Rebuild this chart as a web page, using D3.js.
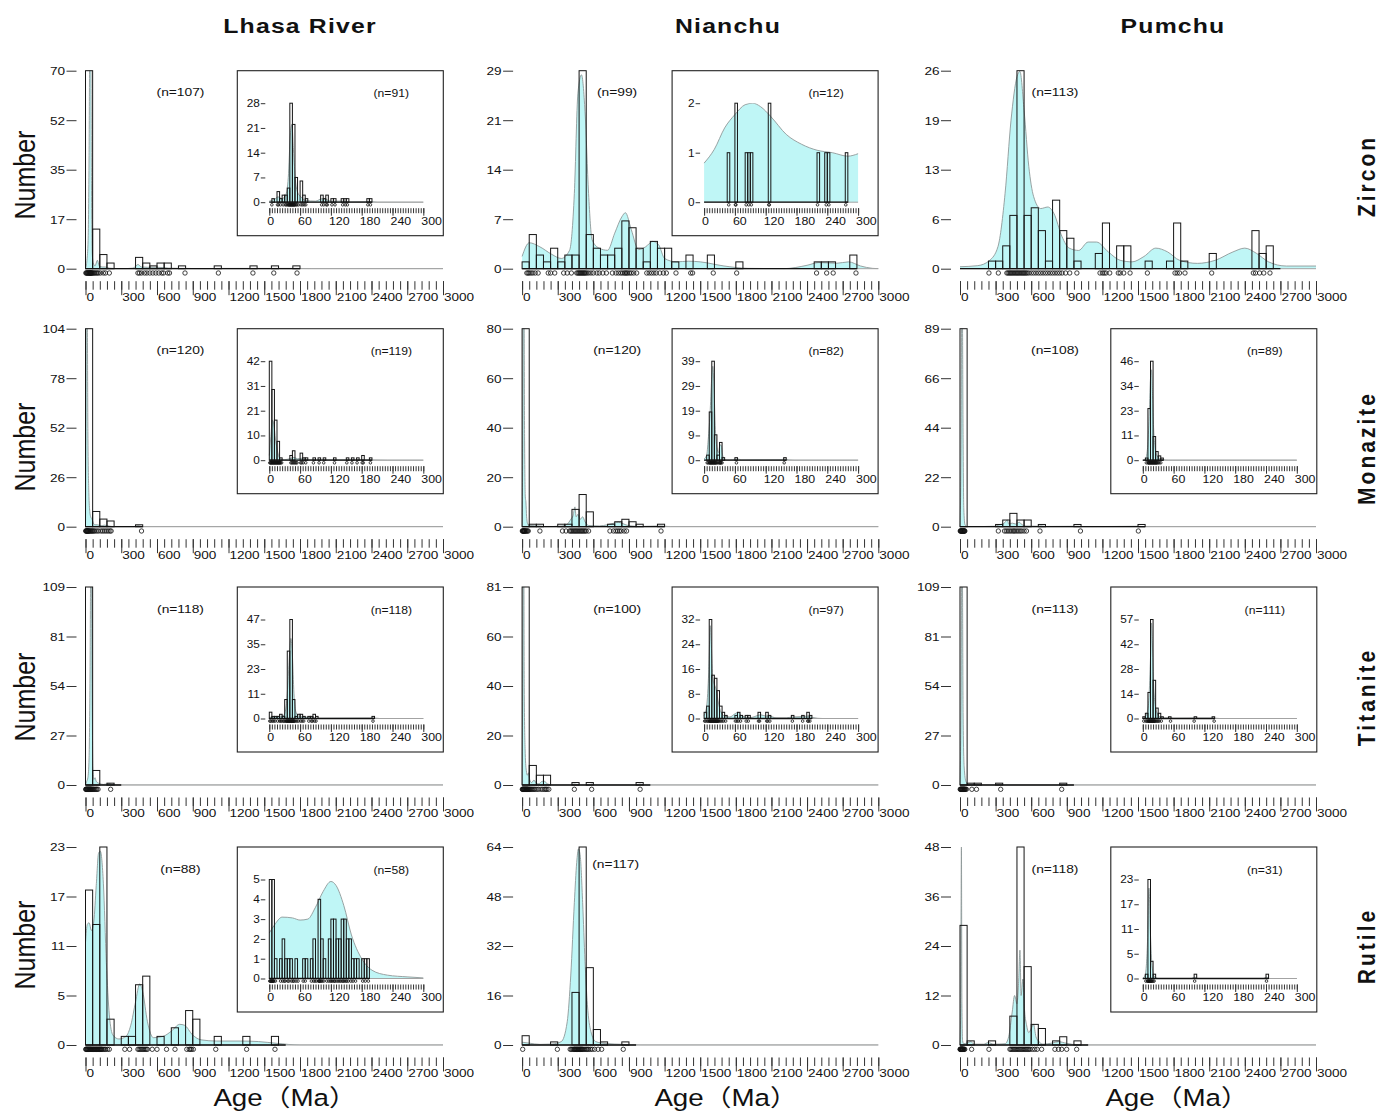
<!DOCTYPE html>
<html>
<head>
<meta charset="utf-8">
<script src="https://cdn.jsdelivr.net/npm/d3@7"></script>
<style>
  body { margin: 0; background: #fff; }
  svg { display: block; }
</style>
</head>
<body>
<svg id="chart" width="1381" height="1112"></svg>
<script>
// ---------- categories and tick labels ----------
const rivers = ["Lhasa River", "Nianchu", "Pumchu"];
const minerals = ["Zircon", "Monazite", "Titanite", "Rutile"];
const ageTicks = [0, 300, 600, 900, 1200, 1500, 1800, 2100, 2400, 2700, 3000];
const insetAgeTicks = [0, 60, 120, 180, 240, 300];
const mainBin = 60;   // Ma per bar, full-range histograms
const insetBin = 5;   // Ma per bar, 0-300 Ma histograms

// ---------- Zircon ----------
const lhasaZirconCounts = [70,14,5,2,0,0,0,4,2,1,2,2,0,1,0,0,0,0,1,0,0,0,0,1,0,0,1,0,0,1];
const lhasaZirconYTicks = ["0","17","35","52","70"];
const lhasaZirconRug = [3,8,12,17,21,25,29,33,36,39,42,45,48,52,56,62,70,78,88,98,108,125,150,168,200,440,452,470,495,515,540,565,590,615,640,655,690,705,835,1115,1405,1580,1775];
const lhasaZirconKde = [[0,0],[12,3],[22,10],[30,40],[36,80],[44,80],[50,30],[56,6],[65,2],[80,1],[100,3],[115,1],[140,0.6],[165,0.6],[200,0.2],[300,0],[400,0.2],[440,1.5],[470,0.6],[520,0.5],[600,0.5],[650,0.4],[700,0.2],[800,0.1],[840,0.1],[1000,0],[1120,0.1],[1400,0.1],[1570,0.1],[1780,0.1],[1900,0],[3000,0]];
const lhasaZirconInsetCounts = [0,1,0,3,1,2,2,4,28,22,7,0,6,2,1,0,0,0,0,0,2,1,2,0,1,1,0,0,1,1,1,0,0,0,0,0,0,0,1,1];
const lhasaZirconInsetYTicks = ["0","7","14","21","28"];
const lhasaZirconInsetRug = [5,16,18,22,27,31,33,35,37,38,39,40,41,42,43,44,45,46,47,48,49,50,52,54,57,62,65,68,71,102,106,111,113,122,128,143,148,152,192,197];
const lhasaZirconInsetKde = [[0,0.3],[10,0.8],[17,1.5],[25,1],[32,2],[37,7],[41,19],[44,22],[47,15],[51,6],[56,2.5],[62,1.5],[70,0.5],[90,0.3],[103,1],[110,0.8],[120,0.3],[145,0.3],[155,0.1],[195,0.2],[210,0],[300,0]];

const nianchuZirconCounts = [1,5,2,1,3,1,2,2,29,5,3,2,2,3,7,6,3,1,4,3,3,1,0,2,0,0,2,0,0,0,1,0,0,0,0,0,0,0,0,0,0,1,1,1,0,0,2];
const nianchuZirconYTicks = ["0","7","14","21","29"];
const nianchuZirconRug = [40,50,60,75,90,110,135,220,240,275,350,380,415,460,470,478,486,494,502,510,518,526,534,545,560,580,600,630,650,680,710,760,790,810,830,845,860,870,880,890,905,920,940,965,1050,1070,1090,1110,1130,1160,1190,1215,1296,1420,1436,1610,1807,2480,2565,2620,2812];
const nianchuZirconKde = [[0,1.8],[60,3.8],[150,3.2],[250,2.1],[330,1.5],[400,2.7],[440,11],[470,25.7],[500,28.4],[530,23],[560,11],[590,4.2],[650,3],[720,2.7],[780,5.2],[840,7.6],[870,8.2],[920,5.7],[980,2.8],[1040,3.2],[1100,4],[1150,3.5],[1200,1.5],[1300,1],[1400,1.1],[1500,1],[1700,0.4],[1900,0.05],[2200,0],[2400,0.5],[2500,0.9],[2650,0.8],[2750,1],[2850,0.4],[2950,0.05],[3000,0]];
const nianchuZirconInsetCounts = [0,0,0,0,0,0,0,0,0,1,0,0,2,0,0,0,1,1,1,0,0,0,0,0,0,2,0,0,0,0,0,0,0,0,0,0,0,0,0,0,0,0,0,0,1,0,0,1,1,0,0,0,0,0,0,1];
const nianchuZirconInsetYTicks = ["0","1","2"];
const nianchuZirconInsetRug = [48,61,62,82,87,92,126,127,221,238,243,276];
const nianchuZirconInsetKde = [[0,0.79],[20,1.07],[40,1.5],[60,1.77],[80,1.97],[95,2.0],[110,1.93],[130,1.73],[160,1.37],[190,1.17],[220,1.05],[250,1.0],[280,0.93],[300,0.98]];

const pumchuZirconCounts = [0,0,0,0,1,1,3,7,26,7,8,5,1,9,5,4,1,0,0,2,6,0,3,3,0,0,1,0,0,1,6,1,0,0,0,2,0,0,0,0,0,5,2,3,0];
const pumchuZirconYTicks = ["0","6","13","19","26"];
const pumchuZirconRug = [244,323,395,405,415,425,435,445,455,465,475,485,495,505,515,525,535,545,555,565,580,600,620,640,660,680,700,720,740,760,780,800,820,840,860,890,925,985,1180,1200,1215,1230,1262,1334,1350,1380,1433,1579,1812,1830,1850,1896,2121,2472,2490,2525,2560,2612];
const pumchuZirconKde = [[0,0.26],[150,0.4],[250,1.1],[320,2.9],[380,9.9],[430,19.5],[480,25.2],[505,25.9],[540,20.8],[580,13.4],[620,9.5],[680,7.9],[740,8.1],[790,7.3],[860,4.2],[920,2.7],[1000,2.4],[1080,3.5],[1150,3.5],[1250,2.2],[1350,1.1],[1450,0.9],[1550,1.6],[1650,2.7],[1750,2.2],[1850,1.1],[2000,0.7],[2150,1.1],[2300,2.2],[2400,2.7],[2500,2],[2600,0.9],[2750,0.35],[3000,0.35]];

// ---------- Monazite ----------
const lhasaMonaziteCounts = [104,8,4,3,0,0,0,1];
const lhasaMonaziteYTicks = ["0","26","52","78","104"];
const lhasaMonaziteRug = [2,5,8,11,14,17,20,23,26,30,35,42,48,55,62,70,80,95,110,130,145,160,175,190,205,215,470];
const lhasaMonaziteKde = [[0,0],[4,50],[8,120],[14,120],[20,50],[28,18],[36,8],[45,5],[55,4],[65,2],[80,1],[100,1],[130,0.5],[160,0.8],[200,0.3],[250,0],[400,0],[440,0.5],[480,0],[3000,0]];
const lhasaMonaziteInsetCounts = [42,30,17,8,1,0,0,0,2,4,0,0,3,1,1,0,0,1,0,1,0,1,0,0,0,1,0,0,0,0,1,0,1,0,1,0,2,0,0,1];
const lhasaMonaziteInsetYTicks = ["0","10","21","31","42"];
const lhasaMonaziteInsetRug = [1,2,3,4,5,6,7,8,9,10,11,12,13,14,15,16,17,18,19,20,21,22,24,42,44,46,48,50,52,54,61,63,66,71,86,97,106,127,151,161,171,181,183,197];
const lhasaMonaziteInsetKde = [[0,2],[3,10],[6,17],[9,15],[12,9],[15,5],[18,2],[22,0.5],[30,0.2],[42,0.8],[48,1.2],[55,0.6],[63,0.8],[70,0.3],[100,0.2],[150,0.2],[175,0.3],[185,0.3],[200,0.1],[230,0],[300,0]];

const nianchuMonaziteCounts = [80,1,1,0,0,1,1,7,13,6,0,0,1,2,3,2,1,0,0,1];
const nianchuMonaziteYTicks = ["0","20","40","60","80"];
const nianchuMonaziteRug = [2,5,8,11,14,17,20,23,27,32,38,45,52,150,340,370,400,410,420,430,440,450,460,470,480,490,500,510,520,530,540,560,740,770,790,805,820,835,860,880,1170];
const nianchuMonaziteKde = [[0,0],[5,30],[10,90],[16,90],[21,35],[27,12],[32,10],[38,4],[48,1],[60,0.5],[150,0.3],[200,0],[330,0.3],[380,1],[410,3],[430,4.5],[445,8],[455,4],[470,5],[490,3],[510,4],[530,2],[560,0.5],[650,0.3],[720,0.8],[780,1.5],[810,1.8],[850,1.2],[900,0.4],[1000,0.1],[1170,0.3],[1250,0],[3000,0]];
const nianchuMonaziteInsetCounts = [0,2,19,39,10,2,7,1,0,0,0,0,1,0,0,0,0,0,0,0,0,0,0,0,0,0,0,0,0,0,0,1];
const nianchuMonaziteInsetYTicks = ["0","9","19","29","39"];
const nianchuMonaziteInsetRug = [6,8,10,11,12,13,14,15,16,17,18,19,20,21,22,23,24,26,28,30,31,32,33,35,63,156];
const nianchuMonaziteInsetKde = [[0,0.5],[5,2],[8,8],[12,20],[15,33],[17,37],[19,30],[22,12],[25,5],[28,3],[31,6],[33,6],[36,2],[40,0.3],[50,0.1],[60,0.4],[66,0.5],[72,0.1],[150,0.2],[157,0.5],[165,0.1],[175,0],[300,0]];

const pumchuMonaziteCounts = [89,0,0,0,0,1,3,6,3,3,0,1,0,0,0,0,1,0,0,0,0,0,0,0,0,1];
const pumchuMonaziteYTicks = ["0","22","44","66","89"];
const pumchuMonaziteRug = [2,5,8,11,14,17,20,23,26,29,32,35,38,41,323,375,390,405,420,435,450,460,475,490,505,520,540,560,674,1015,1503];
const pumchuMonaziteKde = [[0,0],[8,30],[14,95],[20,95],[26,40],[32,8],[42,1],[60,0],[290,0.2],[330,0.8],[370,1.5],[400,3],[410,1.2],[440,1.6],[470,1.2],[500,2],[520,1],[560,0.3],[650,0.2],[680,0.4],[720,0.1],[1000,0.2],[1050,0],[1500,0.2],[1550,0],[3000,0]];
const pumchuMonaziteInsetCounts = [0,1,24,46,11,4,2,1];
const pumchuMonaziteInsetYTicks = ["0","11","23","34","46"];
const pumchuMonaziteInsetRug = [7,10,11,12,13,14,15,16,17,18,19,20,21,22,23,24,25,26,27,28,30,32,35];
const pumchuMonaziteInsetKde = [[0,0],[5,0.5],[9,5],[12,18],[15,38],[17,42],[19,30],[21,15],[24,6],[28,2],[33,0.8],[40,0.2],[50,0],[300,0]];

// ---------- Titanite ----------
const lhasaTitaniteCounts = [109,8,0,1,0];
const lhasaTitaniteYTicks = ["0","27","54","81","109"];
const lhasaTitaniteRug = [2,5,8,11,14,17,20,23,26,29,32,35,38,41,44,47,50,55,60,66,72,80,88,95,105,211];
const lhasaTitaniteKde = [[0,0],[10,2],[20,4],[30,15],[38,60],[44,120],[50,120],[56,50],[62,10],[70,3],[80,4],[90,2],[110,1],[150,0.3],[200,0.8],[220,0.3],[300,0],[3000,0]];
const lhasaTitaniteInsetCounts = [3,1,1,1,2,1,9,32,47,9,1,2,2,1,0,1,1,2,1,0,0,0,0,0,0,0,0,0,0,0,0,0,0,0,0,0,0,0,0,0,1];
const lhasaTitaniteInsetYTicks = ["0","11","23","35","47"];
const lhasaTitaniteInsetRug = [1,3,6,8,11,16,20,22,24,27,29,31,33,34,35,36,37,38,39,40,41,42,43,44,45,46,47,48,49,51,54,57,61,64,67,77,82,84,88,91,202];
const lhasaTitaniteInsetKde = [[0,0.5],[10,0.8],[20,1],[28,1.5],[33,6],[37,20],[40,33],[42,38],[45,30],[48,12],[52,3],[58,1],[65,0.8],[75,0.6],[85,0.3],[100,0.1],[195,0.2],[205,0.2],[215,0],[300,0]];

const nianchuTitaniteCounts = [81,8,4,4,0,0,0,1,0,1,0,0,0,0,0,0,1,0];
const nianchuTitaniteYTicks = ["0","20","40","60","81"];
const nianchuTitaniteRug = [2,5,8,11,14,17,20,23,26,29,32,35,38,41,44,47,50,55,60,65,72,80,90,100,110,125,140,160,175,190,200,210,225,440,586,994];
const nianchuTitaniteKde = [[0,0],[5,40],[10,95],[14,95],[18,40],[25,15],[35,6],[45,4],[55,5],[65,2],[80,1],[100,2],[115,1],[140,0.5],[170,1.5],[190,1.5],[210,0.5],[260,0],[400,0],[440,0.4],[480,0],[560,0],[586,0.4],[620,0],[960,0],[994,0.4],[1030,0],[3000,0]];
const nianchuTitaniteInsetCounts = [2,4,32,14,13,9,4,2,1,0,0,0,1,2,1,0,1,1,0,0,0,2,0,0,2,1,0,0,0,0,0,0,0,0,1,0,0,0,1,0,2,1];
const nianchuTitaniteInsetYTicks = ["0","8","16","24","32"];
const nianchuTitaniteInsetRug = [1,3,6,8,10,11,12,13,14,15,16,17,18,19,20,21,22,23,24,25,26,27,28,30,32,35,38,42,61,64,67,71,82,86,106,108,122,124,128,172,192,202,203,206];
const nianchuTitaniteInsetKde = [[0,1],[5,4],[9,15],[12,30],[14,24],[17,13],[20,11],[24,9],[28,5],[33,2],[40,0.8],[50,0.5],[60,1.5],[66,2],[72,1],[80,0.5],[90,0.3],[105,1],[110,1.2],[120,0.8],[127,0.8],[140,0.2],[160,0.2],[172,0.5],[190,0.6],[203,0.8],[212,0.3],[230,0],[300,0]];

const pumchuTitaniteCounts = [109,1,1,0,0,1,0,0,0,0,0,0,0,0,1,0];
const pumchuTitaniteYTicks = ["0","27","54","81","109"];
const pumchuTitaniteRug = [2,5,8,11,14,17,20,23,26,29,32,35,38,42,46,54,100,139,343,857];
const pumchuTitaniteKde = [[0,0],[8,40],[14,115],[20,115],[26,40],[35,10],[50,2],[70,0.5],[100,0.5],[140,0.4],[200,0],[320,0],[343,0.3],[370,0],[830,0],[857,0.3],[890,0],[3000,0]];
const pumchuTitaniteInsetCounts = [1,3,15,57,22,6,3,1,0,0,1,0,0,0,0,0,0,0,0,0,1,0,0,0,0,0,0,1];
const pumchuTitaniteInsetYTicks = ["0","14","28","42","57"];
const pumchuTitaniteInsetRug = [2,6,8,10,11,12,13,14,15,16,17,18,19,20,21,22,23,24,26,28,30,32,36,54,100,139];
const pumchuTitaniteInsetKde = [[0,0],[5,1],[9,4],[12,12],[15,35],[17,55],[19,40],[21,20],[24,8],[28,3],[33,1],[40,0.3],[54,0.3],[60,0.1],[100,0.2],[139,0.2],[150,0],[300,0]];

// ---------- Rutile ----------
const lhasaRutileCounts = [18,14,23,3,0,1,1,7,8,0,1,0,2,0,4,3,0,0,1,0,0,0,1,0,0,0,1,0];
const lhasaRutileYTicks = ["0","5","11","17","23"];
const lhasaRutileRug = [2,6,10,14,18,22,26,30,34,38,42,46,50,55,60,65,70,75,80,85,90,95,100,105,110,115,120,125,130,135,140,150,160,170,185,200,330,370,440,450,460,470,480,490,500,510,520,560,600,680,751,850,870,880,890,905,1093,1352,1590];
const lhasaRutileKde = [[0,11.9],[15,14],[30,14.2],[50,13.3],[70,14.4],[90,18.5],[110,22.3],[125,22.5],[150,18.8],[175,9.6],[200,3.5],[230,1.15],[280,0.7],[340,1],[380,2.3],[420,5],[455,7.1],[480,6.2],[520,2.7],[570,0.85],[650,1],[720,1.6],[790,2.4],[830,2.3],[900,1.15],[970,0.6],[1100,0.46],[1300,0.46],[1450,0.4],[1600,0.2],[1800,0],[3000,0]];
const lhasaRutileInsetCounts = [5,5,1,0,1,2,1,1,1,0,1,0,0,1,1,0,1,2,0,4,2,1,0,2,3,3,2,2,3,3,2,2,1,1,1,0,1,1,1];
const lhasaRutileInsetYTicks = ["0","1","2","3","4","5"];
const lhasaRutileInsetRug = [1,2,3,4,5,6,7,8,9,12,22,26,29,31,36,38,43,46,48,52,56,66,70,82,86,89,92,96,97,98,99,101,103,106,112,116,119,121,123,126,128,131,134,137,139,142,144,146,149,151,154,159,163,168,182,187,193];
const lhasaRutileInsetKde = [[0,2.3],[10,2.7],[25,3.1],[45,3.06],[60,2.95],[75,3.0],[90,3.6],[105,4.4],[120,4.9],[130,4.7],[145,3.7],[160,2.2],[180,1.0],[200,0.42],[230,0.17],[270,0.08],[300,0.03]];

const nianchuRutileCounts = [3,0,0,0,1,0,0,17,64,25,5,1,0,0,1,0];
const nianchuRutileYTicks = ["0","16","32","48","64"];
const nianchuRutileRug = [5,297,405,415,425,435,440,445,450,455,460,465,470,475,480,485,490,495,500,505,510,520,530,540,550,560,575,590,610,640,670,852];
const nianchuRutileKde = [[0,0.9],[60,0.6],[150,0.2],[250,0.3],[330,1.1],[380,7.5],[410,22.6],[440,46],[460,59],[475,63.4],[490,61],[510,46],[530,27],[550,13],[580,4.3],[620,1.1],[700,0.5],[850,0.2],[1000,0],[3000,0]];

const pumchuRutileCounts = [29,1,0,0,1,0,0,7,48,19,5,4,0,1,2,0,1,0];
const pumchuRutileYTicks = ["0","12","24","36","48"];
const pumchuRutileRug = [1,3,5,7,9,11,13,15,17,19,21,23,25,27,30,35,40,98,244,421,430,440,450,460,470,480,490,500,510,520,530,540,550,560,570,580,590,610,630,650,688,800,830,857,899,983];
const pumchuRutileKde = [[0,0],[6,10],[12,48],[16,10],[22,1],[30,0.3],[60,0.5],[90,0.8],[120,0.2],[200,0.2],[240,0.6],[280,0.2],[380,0.3],[410,2],[440,8],[460,12],[480,10],[495,16],[505,23],[515,12],[530,16],[545,8],[560,5],[580,3],[600,4],[620,5],[640,2],[660,1],[700,0.2],[780,0.5],[830,0.8],[900,0.4],[1000,0],[3000,0]];
const pumchuRutileInsetCounts = [0,1,23,4,1,0,0,0,0,0,0,0,0,0,0,0,0,0,0,0,1,0,0,0,0,0,0,0,0,0,0,0,0,0,0,0,0,0,0,0,0,0,0,0,0,0,0,0,1];
const pumchuRutileInsetYTicks = ["0","5","11","17","23"];
const pumchuRutileInsetRug = [6,9,10,11,12,13,14,15,16,17,18,20,22,101,241];
const pumchuRutileInsetKde = [[0,0],[5,1],[9,8],[12,21],[15,10],[18,3],[22,0.5],[30,0],[95,0],[101,0.3],[107,0],[235,0],[241,0.3],[247,0],[300,0]];

// ---------- panel table ----------
const panels = [
  {row:0, col:0, n:107, counts:lhasaZirconCounts, yTicks:lhasaZirconYTicks, rug:lhasaZirconRug, kde:lhasaZirconKde,
   inset:{n:91, counts:lhasaZirconInsetCounts, yTicks:lhasaZirconInsetYTicks, rug:lhasaZirconInsetRug, kde:lhasaZirconInsetKde}},
  {row:0, col:1, n:99, counts:nianchuZirconCounts, yTicks:nianchuZirconYTicks, rug:nianchuZirconRug, kde:nianchuZirconKde,
   inset:{n:12, counts:nianchuZirconInsetCounts, yTicks:nianchuZirconInsetYTicks, rug:nianchuZirconInsetRug, kde:nianchuZirconInsetKde}},
  {row:0, col:2, n:113, counts:pumchuZirconCounts, yTicks:pumchuZirconYTicks, rug:pumchuZirconRug, kde:pumchuZirconKde, inset:null},
  {row:1, col:0, n:120, counts:lhasaMonaziteCounts, yTicks:lhasaMonaziteYTicks, rug:lhasaMonaziteRug, kde:lhasaMonaziteKde,
   inset:{n:119, counts:lhasaMonaziteInsetCounts, yTicks:lhasaMonaziteInsetYTicks, rug:lhasaMonaziteInsetRug, kde:lhasaMonaziteInsetKde}},
  {row:1, col:1, n:120, counts:nianchuMonaziteCounts, yTicks:nianchuMonaziteYTicks, rug:nianchuMonaziteRug, kde:nianchuMonaziteKde,
   inset:{n:82, counts:nianchuMonaziteInsetCounts, yTicks:nianchuMonaziteInsetYTicks, rug:nianchuMonaziteInsetRug, kde:nianchuMonaziteInsetKde}},
  {row:1, col:2, n:108, counts:pumchuMonaziteCounts, yTicks:pumchuMonaziteYTicks, rug:pumchuMonaziteRug, kde:pumchuMonaziteKde,
   inset:{n:89, counts:pumchuMonaziteInsetCounts, yTicks:pumchuMonaziteInsetYTicks, rug:pumchuMonaziteInsetRug, kde:pumchuMonaziteInsetKde}},
  {row:2, col:0, n:118, counts:lhasaTitaniteCounts, yTicks:lhasaTitaniteYTicks, rug:lhasaTitaniteRug, kde:lhasaTitaniteKde,
   inset:{n:118, counts:lhasaTitaniteInsetCounts, yTicks:lhasaTitaniteInsetYTicks, rug:lhasaTitaniteInsetRug, kde:lhasaTitaniteInsetKde}},
  {row:2, col:1, n:100, counts:nianchuTitaniteCounts, yTicks:nianchuTitaniteYTicks, rug:nianchuTitaniteRug, kde:nianchuTitaniteKde,
   inset:{n:97, counts:nianchuTitaniteInsetCounts, yTicks:nianchuTitaniteInsetYTicks, rug:nianchuTitaniteInsetRug, kde:nianchuTitaniteInsetKde}},
  {row:2, col:2, n:113, counts:pumchuTitaniteCounts, yTicks:pumchuTitaniteYTicks, rug:pumchuTitaniteRug, kde:pumchuTitaniteKde,
   inset:{n:111, counts:pumchuTitaniteInsetCounts, yTicks:pumchuTitaniteInsetYTicks, rug:pumchuTitaniteInsetRug, kde:pumchuTitaniteInsetKde}},
  {row:3, col:0, n:88, counts:lhasaRutileCounts, yTicks:lhasaRutileYTicks, rug:lhasaRutileRug, kde:lhasaRutileKde,
   inset:{n:58, counts:lhasaRutileInsetCounts, yTicks:lhasaRutileInsetYTicks, rug:lhasaRutileInsetRug, kde:lhasaRutileInsetKde}},
  {row:3, col:1, n:117, counts:nianchuRutileCounts, yTicks:nianchuRutileYTicks, rug:nianchuRutileRug, kde:nianchuRutileKde, inset:null},
  {row:3, col:2, n:118, counts:pumchuRutileCounts, yTicks:pumchuRutileYTicks, rug:pumchuRutileRug, kde:pumchuRutileKde,
   inset:{n:31, counts:pumchuRutileInsetCounts, yTicks:pumchuRutileInsetYTicks, rug:pumchuRutileInsetRug, kde:pumchuRutileInsetKde}}
];

// ---------- layout ----------
const FONT = "'Liberation Sans', Arial, 'Noto Sans CJK SC', sans-serif";
const SX = 1.18;                 // glyphs are drawn slightly wide
const CYAN = "#bff6f6";
const KDE_LINE = "#8f9999";
const colX0 = [85.5, 522.1, 960];
const colX1 = [443, 878.3, 1316];
const rowBase = [268.7, 526.7, 785, 1045];
const plotH = 198;
const insetLeft = [151.8, 150, 150.8];
const insetW = 206, insetH = 165;
const numberLabelY = [175, 447, 697, 945];
const mineralLabelY = [176, 448, 697, 946];
const ageLabelX = [285, 726, 1177];
const riverTitleX = [300, 728, 1173];

const svg = d3.select("#chart");
svg.append("rect").attr("width", 1381).attr("height", 1112).attr("fill", "#fff");

function txt(parent, x, y, s, o) {
  const k = o.sx || SX;
  const tr = o.rot ? `translate(${x},${y}) rotate(-90) scale(1,${k})`
                   : `translate(${x},${y}) scale(${k},1)`;
  const t = parent.append("text")
    .attr("transform", tr)
    .attr("text-anchor", o.anchor || "start")
    .attr("font-family", o.family || FONT)
    .attr("font-size", o.size)
    .attr("font-weight", o.weight || "normal")
    .attr("fill", "#111")
    .text(s);
  if (o.ls) t.attr("letter-spacing", o.ls);
  return t;
}

let clipId = 0;
// histogram + density curve + rug for one data block
function drawHist(g, d, geo) {
  const x = d3.scaleLinear().domain([0, geo.ageMax]).range([geo.x0, geo.x1]);
  const yMax = +d.yTicks[d.yTicks.length - 1];
  const y = d3.scaleLinear().domain([0, yMax]).range([geo.base, geo.base - geo.h]);

  const id = "clip" + (clipId++);
  g.append("clipPath").attr("id", id).append("rect")
    .attr("x", geo.x0 - 3).attr("y", geo.base - geo.h)
    .attr("width", geo.x1 - geo.x0 + 6).attr("height", geo.h + 0.5);

  const area = d3.area().x(p => x(p[0])).y0(geo.base).y1(p => y(p[1])).curve(d3.curveMonotoneX);
  const line = d3.line().x(p => x(p[0])).y(p => y(p[1])).curve(d3.curveMonotoneX);
  const kg = g.append("g").attr("clip-path", `url(#${id})`);
  kg.append("path").datum(d.kde).attr("d", area).attr("fill", CYAN);
  kg.append("path").datum(d.kde).attr("d", line).attr("fill", "none")
    .attr("stroke", KDE_LINE).attr("stroke-width", 0.9);

  // full-range grey baseline
  g.append("line").attr("x1", x(0)).attr("x2", x(geo.ageMax))
    .attr("y1", geo.base).attr("y2", geo.base)
    .attr("stroke", "#a3a3a3").attr("stroke-width", 1);

  const bars = d.counts.map((c, i) => ({ i, c })).filter(b => b.c > 0);
  g.selectAll(null).data(bars).join("rect")
    .attr("x", b => x(b.i * geo.bin))
    .attr("width", b => x((b.i + 1) * geo.bin) - x(b.i * geo.bin))
    .attr("y", b => y(b.c))
    .attr("height", b => geo.base - y(b.c))
    .attr("fill", "none").attr("stroke", "#151515").attr("stroke-width", 1);

  // histogram span baseline
  g.append("line").attr("x1", x(0)).attr("x2", x(d.counts.length * geo.bin))
    .attr("y1", geo.base).attr("y2", geo.base)
    .attr("stroke", "#111").attr("stroke-width", 1.3);

  g.selectAll(null).data(d.rug).join("circle")
    .attr("cx", a => x(a)).attr("cy", geo.base + geo.rugDy).attr("r", geo.rugR)
    .attr("fill", "none").attr("stroke", "#111").attr("stroke-width", 0.8);

  return { x, y, yMax };
}

function yAxis(g, y, yMax, labels, xPos, tick, gap, size) {
  const vals = labels.map((_, i) => yMax * i / (labels.length - 1));
  const ax = g.append("g").attr("transform", `translate(${xPos},0)`)
    .call(d3.axisLeft(y).tickValues(vals).tickSize(tick).tickFormat((v, i) => labels[i]));
  ax.select(".domain").remove();
  ax.attr("color", "#333");
  ax.selectAll(".tick line").attr("stroke-width", 1);
  ax.selectAll(".tick text")
    .attr("x", 0).attr("dy", "0.34em")
    .attr("transform", `translate(${-(tick + gap)},0) scale(${SX},1)`)
    .attr("text-anchor", "end")
    .attr("font-family", FONT).attr("font-size", size).attr("fill", "#111");
}

function xAxis(g, x, yPos, majors, minors, majorLen, minorLen, labelY, labelDx, size) {
  const minorAx = g.append("g").attr("transform", `translate(0,${yPos})`)
    .call(d3.axisBottom(x).tickValues(minors).tickSize(minorLen).tickFormat(""));
  minorAx.select(".domain").remove();
  minorAx.attr("color", "#333");
  const majorAx = g.append("g").attr("transform", `translate(0,${yPos})`)
    .call(d3.axisBottom(x).tickValues(majors).tickSize(majorLen).tickFormat(d3.format("d")));
  majorAx.select(".domain").remove();
  majorAx.attr("color", "#333");
  majorAx.selectAll(".tick text")
    .attr("y", 0).attr("dy", 0)
    .attr("transform", `translate(${labelDx},${labelY}) scale(${SX},1)`)
    .attr("text-anchor", "start")
    .attr("font-family", FONT).attr("font-size", size).attr("fill", "#111");
}

panels.forEach(p => {
  const g = svg.append("g");
  const base = rowBase[p.row];
  const top = base - plotH;
  const x0 = colX0[p.col], x1 = colX1[p.col];

  const m = drawHist(g, p, { x0, x1, ageMax: 3000, base, h: plotH, bin: mainBin, rugR: 2.2, rugDy: 4.3 });
  yAxis(g, m.y, m.yMax, p.yTicks, x0 - 9, 10, 1.5, 11.5);
  xAxis(g, m.x, base + 12.5, ageTicks, d3.range(0, 3001, 60), 14, 8.5, 19.5, 0.5, 11.5);

  // sample size label
  const shifted = (p.row === 3 && p.col === 1);
  txt(g, shifted ? x0 + 93.5 : x0 + 95, shifted ? top + 21 : top + 25.5, `(n=${p.n})`,
      { size: 11.7, anchor: "middle" });

  if (p.inset) {
    const bx = x0 + insetLeft[p.col], by = top;
    g.append("rect").attr("x", bx).attr("y", by).attr("width", insetW).attr("height", insetH)
      .attr("fill", "#fff").attr("stroke", "#222").attr("stroke-width", 1.1);
    const ix0 = bx + 32, ix1 = bx + 186, ibase = by + 131.5;
    const ig = g.append("g");
    const s = drawHist(ig, p.inset, { x0: ix0, x1: ix1, ageMax: 300, base: ibase, h: 99, bin: insetBin, rugR: 1.3, rugDy: 2.6 });
    yAxis(ig, s.y, s.yMax, p.inset.yTicks, ix0 - 4, 4.5, 1, 10);
    xAxis(ig, s.x, ibase + 6, insetAgeTicks, d3.range(0, 301, 5), 7.5, 5, 16.5, -2.5, 10.5);
    txt(ig, bx + 154, by + 26.5, `(n=${p.inset.n})`, { size: 10.3, anchor: "middle" });
  }
});

// column titles
rivers.forEach((r, i) => txt(svg, riverTitleX[i], 33, r, { size: 21, weight: "bold", anchor: "middle", ls: 1 }));
// row titles
minerals.forEach((mn, i) => txt(svg, 1375, mineralLabelY[i], mn, { size: 21, weight: "bold", anchor: "middle", rot: true, ls: 3, sx: 1.1 }));
// y-axis titles
numberLabelY.forEach(yc => txt(svg, 35, yc, "Number", { size: 25, anchor: "middle", rot: true }));
// x-axis titles
ageLabelX.forEach(xc => txt(svg, xc, 1106, "Age（Ma）", { size: 23.5, anchor: "middle" }));
</script>
</body>
</html>
